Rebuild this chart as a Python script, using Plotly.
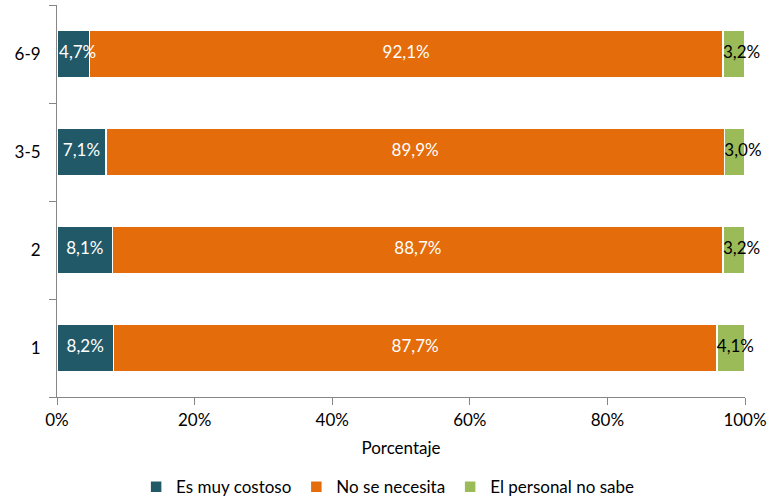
import plotly.graph_objects as go

categories = ["1", "2", "3-5", "6-9"]
costoso = [8.2, 8.1, 7.1, 4.7]
no_necesita = [87.7, 88.7, 89.9, 92.1]
no_sabe = [4.1, 3.2, 3.0, 3.2]
series_names = ["Es muy costoso", "No se necesita", "El personal no sabe"]
colors = ["#215968", "#E46C0A", "#9BBB59"]
xticks = [0, 20, 40, 60, 80, 100]

FONT = "Lato, 'Open Sans', sans-serif"
FS = 17

def fmt(v):
    return f"{v:.1f}".replace(".", ",") + "%"

fig = go.Figure()
for name, vals, col in zip(series_names, [costoso, no_necesita, no_sabe], colors):
    fig.add_trace(go.Bar(
        y=categories, x=vals, name=name, orientation="h",
        marker=dict(color=col, line=dict(color="white", width=1.5)),
        hoverinfo="skip",
    ))

# labels
mid1 = [max(v / 2, 3.0) for v in costoso]
fig.add_trace(go.Scatter(y=categories, x=mid1, mode="text", text=[fmt(v) for v in costoso],
                         textfont=dict(color="white", size=FS, family=FONT), showlegend=False,
                         hoverinfo="skip", cliponaxis=False))
mid2 = [a + b / 2 for a, b in zip(costoso, no_necesita)]
fig.add_trace(go.Scatter(y=categories, x=mid2, mode="text", text=[fmt(v) for v in no_necesita],
                         textfont=dict(color="white", size=FS, family=FONT), showlegend=False,
                         hoverinfo="skip", cliponaxis=False))
start3 = [a + b for a, b in zip(costoso, no_necesita)]
fig.add_trace(go.Scatter(y=categories, x=start3, mode="text", text=[fmt(v) for v in no_sabe],
                         textposition="middle right",
                         textfont=dict(color="black", size=FS, family=FONT), showlegend=False,
                         hoverinfo="skip", cliponaxis=False))

fig.update_layout(
    width=768, height=500,
    barmode="stack", bargap=0.51,
    plot_bgcolor="white", paper_bgcolor="white",
    margin=dict(l=57, r=23, t=5, b=103, autoexpand=False),
    font=dict(family=FONT, size=FS, color="black"),
    xaxis=dict(range=[0, 100], tickvals=xticks, ticktext=[f"{t}%" for t in xticks],
               showgrid=False, zeroline=False, showline=True, linecolor="#868686", linewidth=1,
               ticks="outside", ticklen=7, tickcolor="#868686", ticklabelstandoff=1,
               title=dict(text="Porcentaje", standoff=12, font=dict(size=FS)),
               tickfont=dict(size=FS), fixedrange=True, automargin=False),
    yaxis=dict(categoryorder="array", categoryarray=categories,
               showgrid=False, zeroline=False, showline=True, linecolor="#868686", linewidth=1,
               ticks="outside", ticklen=7, tickcolor="#868686", tickson="boundaries",
               ticklabelstandoff=12,
               tickfont=dict(size=FS), range=[-0.5, 3.5], fixedrange=True, automargin=False),
    legend=dict(orientation="h", x=0.115, xanchor="left", y=-0.184, yanchor="top",
                font=dict(size=FS), traceorder="normal", itemwidth=30),
    showlegend=True,
)

fig.write_html("out.html", post_script="document.body.style.margin='0';",
               config={"displayModeBar": False})
